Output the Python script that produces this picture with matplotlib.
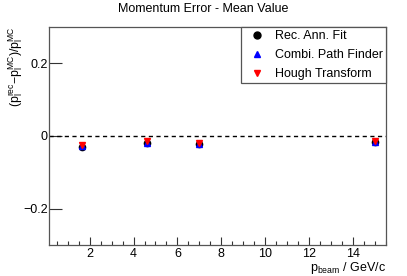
import matplotlib as mpl
import matplotlib.pyplot as plt
from matplotlib.ticker import MultipleLocator, FuncFormatter
from matplotlib.lines import Line2D

mpl.rcParams['font.family'] = ['Liberation Sans', 'DejaVu Sans']
mpl.rcParams['mathtext.fontset'] = 'custom'
mpl.rcParams['mathtext.rm'] = 'Liberation Sans'
mpl.rcParams['mathtext.it'] = 'Liberation Sans'

# beam momenta in GeV/c
p_beam = [1.642, 4.6, 7.0, 15.0]

# mean relative momentum error per method
rec_ann_fit = [-0.030, -0.018, -0.021, -0.016]
combi_path = [-0.028, -0.018, -0.021, -0.016]
hough = [-0.026, -0.015, -0.019, -0.014]

labels = ['Rec. Ann. Fit', 'Combi. Path Finder', 'Hough Transform']

fig = plt.figure(figsize=(4.07, 2.76), dpi=100)
ax = fig.add_axes([49/407, 1-245/276, (386-49)/407, (245-27)/276])

ax.plot(p_beam, rec_ann_fit, ls='none', marker='o', ms=4.5, color='black')
ax.plot(p_beam, combi_path, ls='none', marker='^', ms=5, color='blue')
ax.plot(p_beam, hough, ls='none', marker='v', ms=5, color='red')

ax.axhline(0, color='black', ls=(0, (3, 2.5)), lw=1)

ax.set_xlim(0.15, 15.5)
ax.set_ylim(-0.3, 0.3)

ax.xaxis.set_major_locator(MultipleLocator(2))
ax.xaxis.set_minor_locator(MultipleLocator(0.5))
ax.yaxis.set_major_locator(MultipleLocator(0.2))
ax.yaxis.set_major_formatter(FuncFormatter(lambda v, p: '0' if abs(v) < 1e-9 else f'{v:g}'.replace('-', '\u2212')))

ax.tick_params(axis='x', which='major', direction='in', length=6, width=0.8, labelsize=9, pad=2, color='#333333')
ax.tick_params(axis='x', which='minor', direction='in', length=3, width=0.8, color='#333333')
ax.tick_params(axis='y', which='major', direction='in', length=9, width=0.8, labelsize=9, pad=1, color='#333333')
ax.tick_params(top=False, right=False)

for s in ax.spines.values():
    s.set_color('#555555')
    s.set_linewidth(0.9)

fig.text(0.5, 1-9/276, 'Momentum Error - Mean Value', ha='center', va='center', fontsize=9)

ax.set_ylabel(r'$(\mathrm{p}_{\mathrm{l}}^{\mathrm{rec}}\mathrm{-p}_{\mathrm{l}}^{\mathrm{MC}})/\mathrm{p}_{\mathrm{l}}^{\mathrm{MC}}$',
              fontsize=8.8, loc='top')
ax.yaxis.set_label_coords(-0.07, 1.0)

ax.set_xlabel(r'$\mathrm{p}_{\mathrm{beam}}$ / GeV/c', fontsize=9, loc='right')
ax.xaxis.set_label_coords(1.0, -0.068)

handles = [
    Line2D([], [], ls='none', marker='o', ms=5, color='black'),
    Line2D([], [], ls='none', marker='^', ms=5, color='blue'),
    Line2D([], [], ls='none', marker='v', ms=5, color='red'),
]
leg = ax.legend(handles, labels, loc='upper right', borderaxespad=0, fontsize=9.0,
                fancybox=False, framealpha=1, edgecolor='#555555', handlelength=2.2,
                handletextpad=0.3, labelspacing=0.55, borderpad=0.25)
leg.get_frame().set_linewidth(0.9)

fig.savefig('out.png', dpi=100)
